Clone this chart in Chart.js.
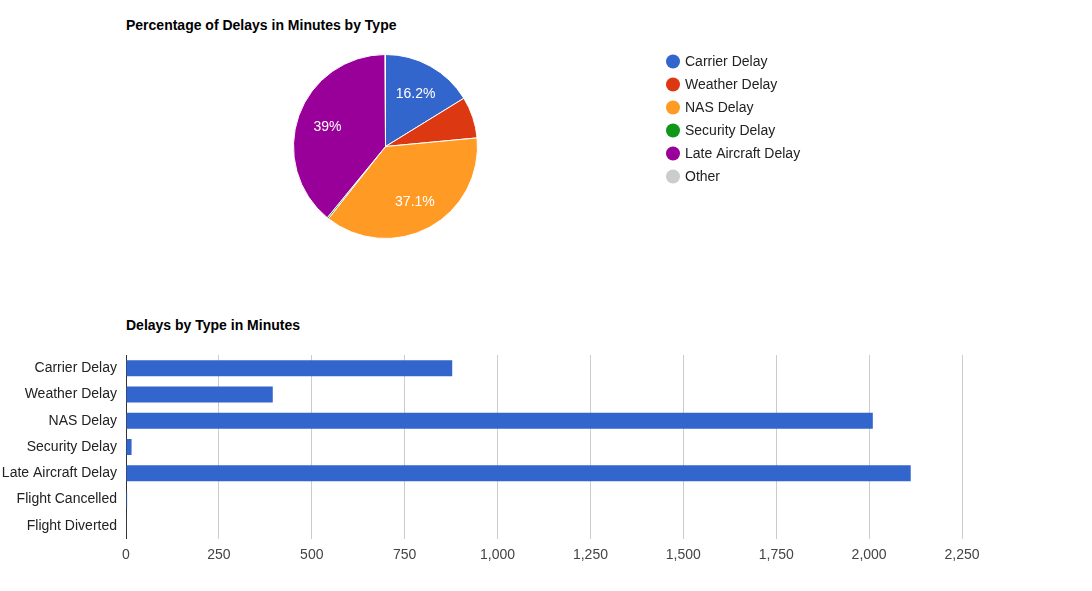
<!DOCTYPE html>
<html>
<head>
<meta charset="utf-8">
<script src="https://cdn.jsdelivr.net/npm/chart.js@4/dist/chart.umd.min.js"></script>
<style>
  html, body { margin: 0; padding: 0; background: #fff; }
  body { width: 1092px; height: 591px; position: relative; overflow: hidden; font-family: 'Liberation Sans', Arial, sans-serif; }
  .box { position: absolute; left: 0; width: 1092px; }
  .title { position: absolute; left: 126px; font-weight: bold; font-size: 14px; color: #000; white-space: nowrap; line-height: 16px; }
</style>
</head>
<body>
<div class="title" style="top:17px">Percentage of Delays in Minutes by Type</div>
<div class="title" style="top:317px">Delays by Type in Minutes</div>
<div class="box" style="top:0;height:300px"><canvas id="pie"></canvas></div>
<div class="box" style="top:300px;height:291px"><canvas id="bar"></canvas></div>
<script>
// ---- data ----
const pieLabels = ['Carrier Delay', 'Weather Delay', 'NAS Delay', 'Security Delay', 'Late Aircraft Delay', 'Other'];
const pieValues = [878, 395, 2010, 15, 2112, 4];
const pieColors = ['#3366cc', '#dc3912', '#ff9b24', '#109618', '#990099', '#cccccc'];

const barLabels = ['Carrier Delay', 'Weather Delay', 'NAS Delay', 'Security Delay', 'Late Aircraft Delay', 'Flight Cancelled', 'Flight Diverted'];
const barValues = [878, 395, 2010, 15, 2112, 3, 1];
const xTicks = [0, 250, 500, 750, 1000, 1250, 1500, 1750, 2000, 2250];

Chart.defaults.font.family = "'Liberation Sans', Arial, sans-serif";
Chart.defaults.font.size = 14;

const pieDecor = {
  id: 'pieDecor',
  afterDatasetsDraw(chart) {
    const ctx = chart.ctx;
    const meta = chart.getDatasetMeta(0);
    const data = chart.data.datasets[0].data;
    const total = data.reduce((a, b) => a + b, 0);
    ctx.save();
    ctx.fillStyle = '#fff';
    ctx.font = "14px 'Liberation Sans', Arial, sans-serif";
    ctx.textAlign = 'center';
    ctx.textBaseline = 'middle';
    meta.data.forEach((arc, i) => {
      const pct = data[i] / total * 100;
      if (pct < 10) return;
      const p = arc.getProps(['x', 'y', 'startAngle', 'endAngle', 'outerRadius'], true);
      const mid = (p.startAngle + p.endAngle) / 2;
      const r = p.outerRadius * 0.67;
      let txt = pct.toFixed(1);
      if (txt.endsWith('.0')) txt = txt.slice(0, -2);
      ctx.fillText(txt + '%', p.x + Math.cos(mid) * r, p.y + Math.sin(mid) * r + 1);
    });
    ctx.restore();
  },
  afterDraw(chart) {
    const ctx = chart.ctx;
    const labels = chart.data.labels;
    const colors = chart.data.datasets[0].backgroundColor;
    ctx.save();
    ctx.font = "14px 'Liberation Sans', Arial, sans-serif";
    ctx.textBaseline = 'middle';
    ctx.textAlign = 'left';
    labels.forEach((lab, i) => {
      const y = 61.5 + i * 23;
      ctx.fillStyle = colors[i];
      ctx.beginPath();
      ctx.arc(673, y, 7, 0, Math.PI * 2);
      ctx.fill();
      ctx.fillStyle = '#222';
      ctx.fillText(lab, 685, y + 0.5);
    });
    ctx.restore();
  }
};

new Chart(document.getElementById('pie'), {
  type: 'pie',
  data: {
    labels: pieLabels,
    datasets: [{ data: pieValues, backgroundColor: pieColors, borderColor: '#fff', borderWidth: 1 }]
  },
  options: {
    responsive: true,
    maintainAspectRatio: false,
    animation: false,
    events: [],
    layout: { padding: { left: 293, right: 614, top: 54, bottom: 61 } },
    plugins: { legend: { display: false }, tooltip: { enabled: false } }
  },
  plugins: [pieDecor]
});

new Chart(document.getElementById('bar'), {
  type: 'bar',
  data: {
    labels: barLabels,
    datasets: [{ data: barValues, backgroundColor: '#3366cc', categoryPercentage: 0.8, barPercentage: 0.76 }]
  },
  options: {
    indexAxis: 'y',
    responsive: true,
    maintainAspectRatio: false,
    animation: false,
    events: [],
    layout: { padding: { left: 0, right: 130, top: 55, bottom: 0 } },
    plugins: { legend: { display: false }, tooltip: { enabled: false } },
    scales: {
      x: {
        min: 0, max: 2250,
        afterBuildTicks(scale) { scale.ticks = xTicks.map(v => ({ value: v })); },
        afterFit(scale) { scale.height = 52; },
        grid: {
          color: ctx => (ctx.tick && ctx.tick.value === 0) ? '#333' : '#cccccc',
          drawTicks: false, lineWidth: 1
        },
        border: { display: false },
        ticks: {
          padding: 8, color: '#444',
          callback: v => Number(v).toLocaleString('en-US')
        }
      },
      y: {
        afterFit(scale) { scale.width = 126; },
        grid: { display: false, drawTicks: false },
        border: { display: false },
        ticks: { padding: 9, color: '#222' }
      }
    }
  }
});
</script>
</body>
</html>
